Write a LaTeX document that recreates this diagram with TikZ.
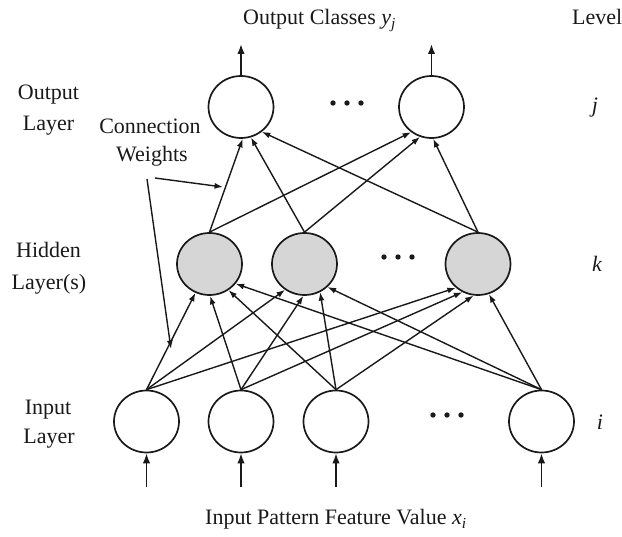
\documentclass[tikz,border=0pt]{standalone}
\usepackage{fontspec}
\setmainfont{Liberation Serif}
\usetikzlibrary{arrows.meta,shapes.geometric}
\definecolor{hidfill}{RGB}{214,214,214}
\definecolor{ink}{RGB}{25,25,25}
\begin{document}
\begin{tikzpicture}[x=1pt,y=-1pt,
  neuron/.style={ellipse,draw=ink,line width=1.7pt,minimum width=65pt,minimum height=62pt,inner sep=0pt},
  hid/.style={neuron,fill=hidfill},
  wire/.style={draw=ink,line width=1.4pt,-{Latex[length=8.5pt,width=6pt]}},
  io/.style={draw=ink,line width=1.8pt,-{Latex[length=10pt,width=7.5pt]}},
  lbl/.style={font=\fontsize{22}{26}\selectfont,text=ink,anchor=base,inner sep=0pt},
  lvl/.style={lbl,font=\fontsize{22}{26}\selectfont\itshape}]
\useasboundingbox (0,0) rectangle (622,537);
% neurons
\node[neuron] (O1) at (241,107) {};
\node[neuron] (O2) at (431.5,107) {};
\node[hid] (H1) at (209.5,264) {};
\node[hid] (H2) at (304.5,264) {};
\node[hid] (H3) at (478,264) {};
\node[neuron] (I1) at (146.5,421.5) {};
\node[neuron] (I2) at (241,421.5) {};
\node[neuron] (I3) at (336,421.5) {};
\node[neuron] (I4) at (541.5,421.5) {};
% dots
\foreach \cx/\cy in {347/103,398/257,447/415}{
  \foreach \dx in {-14,0,14} \fill[ink] (\cx+\dx,\cy) circle (2.7pt);
}
% output arrows
\coordinate (oa1) at (241,44);
\coordinate (oa2) at (431.5,44);
\draw[io] (O1.north) -- (oa1);
\draw[io] (O2.north) -- (oa2);
% input arrows
\foreach \i/\x in {1/146.5,2/241,3/336,4/541.5}{
  \coordinate (ia\i) at (\x,487);
  \draw[io] (ia\i) -- (I\i.south);
}
% hidden -> output
\draw[wire] (H1.north) -- (O1.-87);
\draw[wire] (H2.north) -- (O1.-72);
\draw[wire] (H3.north) -- (O1.-50);
\draw[wire] (H1.north) -- (O2.-129);
\draw[wire] (H2.north) -- (O2.-111);
\draw[wire] (H3.north) -- (O2.-87);
% input -> hidden
\draw[wire] (I1.north) -- (H1.-116);
\draw[wire] (I2.north) -- (H1.-89);
\draw[wire] (I3.north) -- (H1.-54);
\draw[wire] (I4.north) -- (H1.-37);
\draw[wire] (I1.north) -- (H2.-127);
\draw[wire] (I2.north) -- (H2.-92);
\draw[wire] (I3.north) -- (H2.-61);
\draw[wire] (I4.north) -- (H2.-45);
\draw[wire] (I1.north) -- (H3.-133);
\draw[wire] (I2.north) -- (H3.-119);
\draw[wire] (I3.north) -- (H3.-98);
\draw[wire] (I4.north) -- (H3.-70);
% labels
\node[lbl,anchor=base west] (title) at (243,25) {Output Classes \textit{y}\textsubscript{\textit{j}}};
\node[lbl,anchor=base west] (level) at (572,25) {Level};
\node[lbl] (outA) at (48.5,100) {Output};
\node[lbl] (outB) at (48.5,130.5) {Layer};
\node[lbl] (cwA) at (150,134) {Connection};
\node[lbl] (cwB) at (152,162) {Weights};
\node[lbl] (hidA) at (48.5,258) {Hidden};
\node[lbl] (hidB) at (49,290) {Layer(s)};
\node[lbl] (inA) at (48,414.5) {Input};
\node[lbl] (inB) at (49,444) {Layer};
\node[lvl] (lj) at (595,113) {j};
\node[lvl] (lk) at (597,272) {k};
\node[lvl] (li) at (600,430) {i};
\node[lbl,anchor=base west] (inlab) at (205,525) {Input Pattern Feature Value \textit{x}\textsubscript{\textit{i}}};
% connection weight pointers
\coordinate (cwp1) at (155,178);
\coordinate (cwp2) at (147,179);
\coordinate (cwt1) at (223,187);
\coordinate (cwt2) at (171,349);
\draw[wire] (cwp1) -- (cwt1);
\draw[wire] (cwp2) -- (cwt2);
\end{tikzpicture}
\end{document}
